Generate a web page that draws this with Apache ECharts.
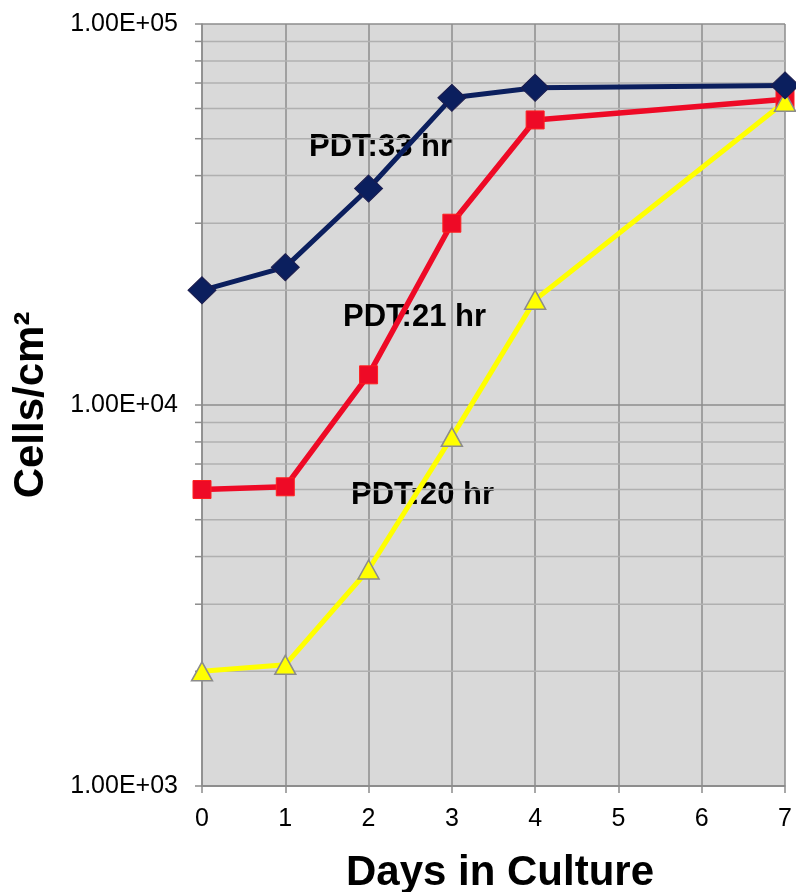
<!DOCTYPE html>
<html>
<head>
<meta charset="utf-8">
<script src="https://cdn.jsdelivr.net/npm/echarts@6/dist/echarts.min.js"></script>
<style>
html,body{margin:0;padding:0;background:#fff;}
#chart{width:796px;height:892px;}
</style>
</head>
<body>
<div id="chart"></div>
<script>
// ---- data ----
var days = [0, 1, 2, 3, 4, 7];
var pdt33 = [20000, 23000, 37000, 64000, 68000, 69000];
var pdt21 = [6000, 6100, 12000, 30000, 56000, 63500];
var pdt20 = [2000, 2080, 3700, 8250, 18900, 62500];
var seriesNames = ['PDT:33 hr', 'PDT:21 hr', 'PDT:20 hr'];
var xTicks = [0, 1, 2, 3, 4, 5, 6, 7];
var yTicks = [1000, 10000, 100000];
var yTickLabels = ['1.00E+03', '1.00E+04', '1.00E+05'];
var minorValues = [2000, 3000, 4000, 5000, 6000, 7000, 8000, 9000,
                   20000, 30000, 40000, 50000, 60000, 70000, 80000, 90000];
var xAxisTitle = 'Days in Culture';
var yAxisTitle = 'Cells/cm\u00B2';

function pairs(xs, ys) { return xs.map(function (x, i) { return [x, ys[i]]; }); }
var labelMap = {};
yTicks.forEach(function (v, i) { labelMap[v] = yTickLabels[i]; });

var FONT = '"Liberation Sans", Arial, sans-serif';
var chart = echarts.init(document.getElementById('chart'), null, {renderer: 'canvas'});

var option = {
  animation: false,
  grid: {
    left: 202, top: 24, right: 11, bottom: 106,
    outerBoundsMode: 'none', containLabel: false,
    show: true, backgroundColor: '#d9d9d9', borderWidth: 0
  },
  xAxis: {
    type: 'value',
    min: xTicks[0], max: xTicks[xTicks.length - 1], interval: 1,
    name: xAxisTitle, nameLocation: 'middle', nameGap: 66,
    nameTextStyle: {fontFamily: FONT, fontSize: 42, fontWeight: 'bold', color: '#000', padding: [0, 0, 0, 13]},
    axisLine: {show: true, lineStyle: {color: '#8c8c8c', width: 1.5}},
    axisTick: {show: true, inside: false, length: 7, lineStyle: {color: '#8c8c8c', width: 1.5}},
    axisLabel: {fontFamily: FONT, fontSize: 25, color: '#000', margin: 21},
    splitLine: {show: true, lineStyle: {color: '#8c8c8c', width: 1.5}}
  },
  yAxis: {
    type: 'log', logBase: 10,
    min: yTicks[0], max: yTicks[yTicks.length - 1],
    name: yAxisTitle, nameLocation: 'middle', nameGap: 150, nameRotate: 90,
    nameTextStyle: {fontFamily: FONT, fontSize: 42, fontWeight: 'bold', color: '#000'},
    axisLine: {show: true, lineStyle: {color: '#8c8c8c', width: 1.5}},
    axisTick: {show: true, inside: false, length: 7, lineStyle: {color: '#8c8c8c', width: 1.5}},
    axisLabel: {
      fontFamily: FONT, fontSize: 25, color: '#000', margin: 24,
      formatter: function (v) {
        var k = Math.round(v);
        return labelMap[k] !== undefined ? labelMap[k] : '';
      }
    },
    splitLine: {show: true, lineStyle: {color: '#8c8c8c', width: 1.5}}
  },
  graphic: [
    {type: 'text', z: 1, left: 309, top: 132, style: {text: seriesNames[0], font: 'bold 31px ' + FONT, fill: '#000'}},
    {type: 'text', z: 1, left: 343, top: 302, style: {text: seriesNames[1], font: 'bold 31px ' + FONT, fill: '#000'}},
    {type: 'text', z: 1, left: 351, top: 480, style: {text: seriesNames[2], font: 'bold 31px ' + FONT, fill: '#000'}}
  ],
  series: [
    {
      type: 'custom', name: 'minor', silent: true, z: 1,
      data: minorValues.map(function (v) { return [xTicks[0], v]; }),
      renderItem: function (params, api) {
        var cs = params.coordSys;
        var y = api.coord([api.value(0), api.value(1)])[1];
        return {
          type: 'group',
          children: [
            {type: 'line', shape: {x1: cs.x + 1, y1: y, x2: cs.x + cs.width, y2: y},
             style: {stroke: '#b0b0b0', lineWidth: 1.5}},
            {type: 'line', shape: {x1: cs.x - 7, y1: y, x2: cs.x, y2: y},
             style: {stroke: '#8c8c8c', lineWidth: 1.5}}
          ]
        };
      }
    },
    {
      name: seriesNames[0], type: 'line', z: 4,
      data: pairs(days, pdt33),
      symbol: 'diamond', symbolSize: [28, 27],
      lineStyle: {color: '#0b1f5e', width: 5},
      itemStyle: {color: '#0b1f5e', borderColor: '#1d1d4d', borderWidth: 1}
    },
    {
      name: seriesNames[1], type: 'line', z: 3,
      data: pairs(days, pdt21),
      symbol: 'rect', symbolSize: 18,
      lineStyle: {color: '#ee0a26', width: 5.5},
      itemStyle: {color: '#ee0a26', borderColor: '#ff2020', borderWidth: 1}
    },
    {
      name: seriesNames[2], type: 'line', z: 3,
      data: pairs(days, pdt20),
      symbol: 'triangle', symbolSize: [21, 19],
      lineStyle: {color: '#ffff00', width: 5},
      itemStyle: {color: '#ffff00', borderColor: '#8c8c8c', borderWidth: 1.5}
    }
  ]
};
chart.setOption(option);
</script>
</body>
</html>
